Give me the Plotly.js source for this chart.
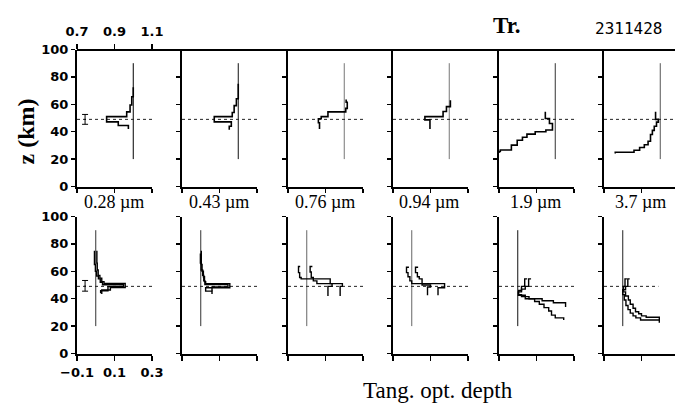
<!DOCTYPE html>
<html><head><meta charset="utf-8">
<script src="https://cdn.plot.ly/plotly-3.0.1.min.js"></script>
<style>html,body{margin:0;padding:0;background:#fff}#c{width:675px;height:407px}
.main-svg path.xlines-above,.main-svg path.ylines-above,.main-svg path.xtick,.main-svg path.ytick,.main-svg .shapelayer path{shape-rendering:crispEdges}</style>
</head><body><div id="c"></div><script>
// ---------- data ----------
const wavelengthLabels = ['0.28 µm', '0.43 µm', '0.76 µm', '0.94 µm', '1.9 µm', '3.7 µm'];
const zTicks = [0, 20, 40, 60, 80, 100];
const trTicks = [0.7, 0.9, 1.1];
const odTicks = [-0.1, 0.1, 0.3];
const tangentZ = [49, 49];
const trTangentX = [0.7, 1.1];
const odTangentEnd = [0.3, 0.3, 0.3, 0.3, 0.3, 0.19];
const refZ = [20, 90];
const trRef = [1, 1];
const odRef = [0, 0];
const trErr = {x: [0.743], z: [49], half: [3.6]};
const odErr = {x: [-0.057], z: [49.4], half: [3.9]};

// transmission profiles (top row)
const tr028_x = [1.0, 0.992, 0.983, 0.965, 0.858, 0.92, 0.974, 0.974];
const tr028_z = [72.5, 65.5, 59.5, 54.5, 51, 47.2, 44.5, 42];
const tr043_x = [1.0, 0.99, 0.978, 0.968, 0.872, 0.963, 0.952, 0.952];
const tr043_z = [75, 64, 59, 54, 51, 47.2, 44, 41.5];
const tr076_x = [1.01, 1.016, 1.008, 0.913, 0.877, 0.862, 0.868, 0.868];
const tr076_z = [63.5, 61.5, 57, 54.5, 51, 49.5, 46.5, 42];
const tr094_x = [1.006, 0.985, 0.967, 0.87, 0.897, 0.897];
const tr094_z = [63, 58.3, 54.7, 51, 48.6, 42];
const tr19_x = [0.947, 0.969, 0.985, 0.95, 0.893, 0.849, 0.825, 0.797, 0.766, 0.707, 0.70, 0.70];
const tr19_z = [54.5, 49.6, 46, 41.2, 40, 38.2, 36, 33.8, 30.2, 26.6, 25.6, 24.5];
const tr37_x = [0.975, 0.99, 0.98, 0.968, 0.958, 0.948, 0.935, 0.915, 0.89, 0.86, 0.76, 0.76];
const tr37_z = [54.5, 49, 47, 44, 41, 38, 33, 30.5, 28.5, 26.5, 25, 24];

// tangential optical depth profiles (bottom row), two per panel
const od028a_x = [0.006, 0.008, 0.013, 0.022, 0.032, 0.044, 0.157, 0.078, 0.032, 0.032];
const od028a_z = [75, 66, 61, 57, 55, 52.5, 51.1, 48.2, 46.4, 43.5];
const od028b_x = [-0.007, -0.002, 0.005, 0.014, 0.024, 0.036, 0.148, 0.065, 0.026, 0.026];
const od028b_z = [75, 65, 60, 56.5, 54.5, 52, 50.2, 48.8, 45.8, 44];
const od043a_x = [0.003, 0.007, 0.014, 0.02, 0.026, 0.155, 0.026, 0.06, 0.06];
const od043a_z = [75, 65, 60, 56, 52.5, 51, 48, 45.5, 43.5];
const od043b_x = [-0.002, 0.002, 0.01, 0.016, 0.022, 0.145, 0.06, 0.06];
const od043b_z = [73, 66, 61, 57, 53, 50.3, 48.6, 45.5];
const od076a_x = [-0.035, -0.044, -0.038, -0.03, 0.125, 0.19, 0.178, 0.178];
const od076a_z = [63.5, 63.5, 59, 55.5, 54.5, 51, 49, 42];
const od076b_x = [0.03, 0.018, 0.024, 0.035, 0.054, 0.135, 0.113, 0.113];
const od076b_z = [63.5, 63.5, 59.5, 55.5, 53, 51, 49, 42];
const od094a_x = [-0.015, -0.028, -0.02, -0.01, 0.0, 0.175, 0.14, 0.14];
const od094a_z = [63, 63, 59, 56, 53, 51, 48, 42.5];
const od094b_x = [0.034, 0.02, 0.03, 0.04, 0.055, 0.1, 0.084, 0.084];
const od094b_z = [63, 63, 59, 56, 54.5, 50, 48.5, 42.5];
const od19a_x = [0.05, 0.037, 0.02, 0.005, 0.02, 0.06, 0.13, 0.19, 0.255, 0.255];
const od19a_z = [54.5, 54.5, 49, 46, 43, 41.5, 40, 38.5, 37, 34];
const od19b_x = [0.071, 0.058, 0.04, 0.02, 0.003, 0.04, 0.09, 0.115, 0.14, 0.165, 0.18, 0.2, 0.245, 0.245];
const od19b_z = [54.5, 54.5, 49, 47, 45, 42.5, 40, 38, 36, 33.5, 31, 28, 26, 24.5];
const od37a_x = [0.022, 0.012, 0.004, 0.0, 0.008, 0.017, 0.028, 0.04, 0.055, 0.07, 0.095, 0.195];
const od37a_z = [54.5, 54.5, 49, 46, 43, 39, 35, 32, 29.5, 27.5, 26, 24.5];
const od37b_x = [0.037, 0.027, 0.015, 0.0, 0.015, 0.03, 0.04, 0.055, 0.068, 0.085, 0.1, 0.125, 0.195, 0.195];
const od37b_z = [54.5, 54.5, 49, 46.5, 45, 42, 39, 36, 33, 30.5, 29, 27.5, 26.5, 22.5];

const trProfiles = [[tr028_x, tr028_z], [tr043_x, tr043_z], [tr076_x, tr076_z], [tr094_x, tr094_z], [tr19_x, tr19_z], [tr37_x, tr37_z]];
const odProfiles = [
  [[od028a_x, od028a_z], [od028b_x, od028b_z]],
  [[od043a_x, od043a_z], [od043b_x, od043b_z]],
  [[od076a_x, od076a_z], [od076b_x, od076b_z]],
  [[od094a_x, od094a_z], [od094b_x, od094b_z]],
  [[od19a_x, od19a_z], [od19b_x, od19b_z]],
  [[od37a_x, od37a_z], [od37b_x, od37b_z]]
];

// ---------- layout ----------
const W = 675, H = 407;
const lefts = [77, 182, 288, 393, 499, 604];
const pxPerUnit = 187.5;
const topDom = [1 - 186.5 / H, 1 - 49.5 / H];
const botDom = [1 - 353.5 / H, 1 - 216.5 / H];
const trRefColor = ['#000', '#111', '#777', '#777', '#333', '#555'];
const odRefColor = ['#333', '#333', '#666', '#666', '#111', '#222'];
const tickFont = {family: 'DejaVu Sans', size: 13, color: '#000', weight: 'bold'};
const serif = 'Liberation Serif, Times New Roman, serif';

const traces = [];
const layout = {
  width: W, height: H, margin: {l: 0, r: 0, t: 0, b: 0},
  paper_bgcolor: '#fff', plot_bgcolor: 'rgba(0,0,0,0)', showlegend: false,
  annotations: [], shapes: []
};

function axBase(extra) {
  return Object.assign({
    showgrid: false, zeroline: false, showline: true, linecolor: '#000', linewidth: 2,
    ticks: 'outside', ticklen: 4, tickwidth: 1.5, tickcolor: '#000', fixedrange: true,
    tickfont: tickFont
  }, extra);
}

for (let k = 0; k < 6; k++) {
  const t = k + 1, b = k + 7;
  const right = Math.min(lefts[k] + 75, W);
  const span = (right - lefts[k]) / pxPerUnit;
  const dom = [(lefts[k] + 0.01) / W, (right + 0.01) / W];
  layout['xaxis' + t] = axBase({domain: dom, anchor: 'y' + t, range: [0.7, 0.7 + span], tickvals: trTicks, showticklabels: false});
  layout['yaxis' + t] = axBase({domain: topDom, anchor: 'x' + t, range: [0, 100], tickvals: zTicks, showticklabels: k === 0});
  layout['xaxis' + b] = axBase({domain: dom, anchor: 'y' + b, range: [-0.1, -0.1 + span], tickvals: odTicks, showticklabels: k === 0, ticklen: 5, ticklabelstandoff: 1});
  layout['yaxis' + b] = axBase({domain: botDom, anchor: 'x' + b, range: [0, 100], tickvals: zTicks, showticklabels: k === 0});

  const xa = 'x' + t, ya = 'y' + t, xb = 'x' + b, yb = 'y' + b;
  // reference lines
  traces.push({x: trRef, y: refZ, xaxis: xa, yaxis: ya, mode: 'lines', line: {color: trRefColor[k], width: 1}, hoverinfo: 'skip'});
  traces.push({x: trTangentX, y: tangentZ, xaxis: xa, yaxis: ya, mode: 'lines', line: {color: '#222', width: 1, dash: 'dot'}, hoverinfo: 'skip'});
  traces.push({x: odRef, y: refZ, xaxis: xb, yaxis: yb, mode: 'lines', line: {color: odRefColor[k], width: 1}, hoverinfo: 'skip'});
  traces.push({x: [-0.1, odTangentEnd[k]], y: tangentZ, xaxis: xb, yaxis: yb, mode: 'lines', line: {color: '#222', width: 1, dash: 'dot'}, hoverinfo: 'skip'});
  // profiles
  traces.push({x: trProfiles[k][0], y: trProfiles[k][1], xaxis: xa, yaxis: ya, mode: 'lines', line: {color: '#000', width: 1.6, shape: 'vh'}});
  odProfiles[k].forEach(p => traces.push({x: p[0], y: p[1], xaxis: xb, yaxis: yb, mode: 'lines', line: {color: '#000', width: 1.4, shape: 'vh'}}));

  layout.annotations.push({text: wavelengthLabels[k], xref: 'paper', yref: 'paper', x: (lefts[k] + 36.5) / W, y: 1 - 202.5 / H,
    xanchor: 'center', yanchor: 'middle', showarrow: false, font: {family: serif, size: 18, color: '#000'}});
}

// error bars
traces.push({x: trErr.x, y: trErr.z, xaxis: 'x', yaxis: 'y', mode: 'markers', marker: {size: 1, color: '#000'},
  error_y: {type: 'data', array: trErr.half, width: 3, thickness: 1, color: '#000'}});
traces.push({x: odErr.x, y: odErr.z, xaxis: 'x7', yaxis: 'y7', mode: 'markers', marker: {size: 1, color: '#000'},
  error_y: {type: 'data', array: odErr.half, width: 3, thickness: 1, color: '#000'}});

// top tick axis of first transmission panel
layout.xaxis13 = axBase({overlaying: 'x', side: 'top', anchor: 'y', range: [0.7, 1.1], tickvals: trTicks, showline: false,
  ticklen: 5, ticklabelstandoff: 2});
traces.push({x: [0.9], y: [50], xaxis: 'x13', yaxis: 'y', mode: 'markers', marker: {opacity: 0}, hoverinfo: 'skip'});

// continuous top border of transmission row
layout.shapes.push({type: 'line', xref: 'paper', yref: 'paper', x0: 77 / W, x1: 1, y0: topDom[1], y1: topDom[1], line: {color: '#000', width: 2}});

layout.annotations.push(
  {text: 'Tr.', xref: 'paper', yref: 'paper', x: 507 / W, y: 1 - 25.5 / H, xanchor: 'center', yanchor: 'middle', showarrow: false,
    font: {family: serif, size: 23, color: '#000', weight: 'bold'}},
  {text: '2311428', xref: 'paper', yref: 'paper', x: 628 / W, y: 1 - 28 / H, xanchor: 'center', yanchor: 'middle', showarrow: false,
    font: {family: 'DejaVu Sans Mono', size: 16, color: '#000'}},
  {text: 'z (km)', xref: 'paper', yref: 'paper', x: 25 / W, y: 1 - 131.5 / H, xanchor: 'center', yanchor: 'middle', showarrow: false,
    textangle: -90, font: {family: serif, size: 24, color: '#000', weight: 'bold'}},
  {text: 'Tang. opt. depth', xref: 'paper', yref: 'paper', x: 437.5 / W, y: 1 - 390.5 / H, xanchor: 'center', yanchor: 'middle', showarrow: false,
    font: {family: serif, size: 23, color: '#000'}}
);

Plotly.newPlot('c', traces, layout, {staticPlot: true, displayModeBar: false});
</script></body></html>
